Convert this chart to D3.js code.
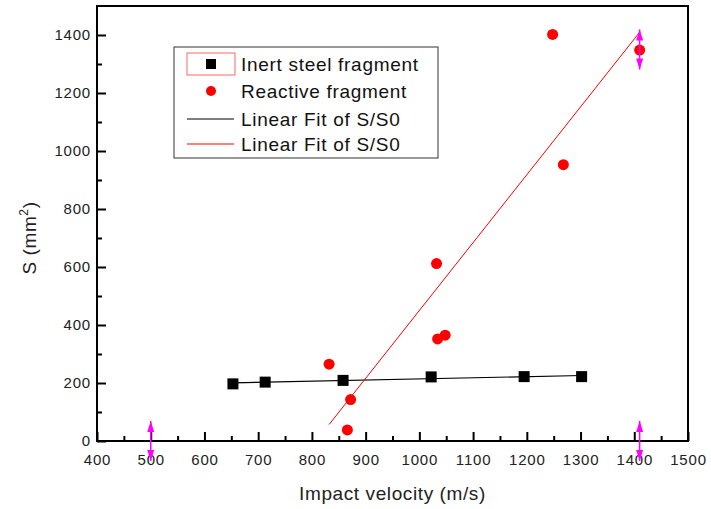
<!DOCTYPE html>
<html>
<head>
<meta charset="utf-8">
<script src="https://cdn.jsdelivr.net/npm/d3@7"></script>
<style>
  body { margin: 0; background: #fff; }
  svg { font-family: "Liberation Sans", Arial, sans-serif; }
</style>
</head>
<body>
<svg width="711" height="509"></svg>
<script>
// inert steel fragment (impact velocity m/s, S mm2)
const inertVelocity = [653, 713, 858, 1022, 1195, 1302];
const inertArea = [197, 203, 209, 221, 222, 222];

// reactive fragment
const reactiveVelocity = [832, 866, 872, 1032, 1034, 1048, 1248, 1268, 1410];
const reactiveArea = [265, 38, 143, 612, 352, 365, 1402, 953, 1348];

// marker arrows (Origin data reader handles)
const arrowX = [500, 1410, 1410];
const arrowY = [0, 0, 1350];

const xTicks = d3.range(400, 1501, 100);
const yTicks = d3.range(0, 1401, 200);

const legendLabels = ["Inert steel fragment", "Reactive fragment", "Linear Fit of S/S0", "Linear Fit of S/S0"];

const svg = d3.select("svg");
const plotLeft = 97, plotRight = 688, plotTop = 6, plotBottom = 441;

const x = d3.scaleLinear().domain([400, 1500]).range([plotLeft, plotRight]);
const y = d3.scaleLinear().domain([0, 1500]).range([plotBottom, plotTop]);

function fit(xs, ys) {
  const mx = d3.mean(xs), my = d3.mean(ys);
  const sxy = d3.sum(xs, (v, i) => (v - mx) * (ys[i] - my));
  const sxx = d3.sum(xs, v => (v - mx) * (v - mx));
  const b = sxy / sxx;
  const a = my - b * mx;
  const x0 = d3.min(xs), x1 = d3.max(xs);
  return [[x0, a + b * x0], [x1, a + b * x1]];
}

const line = d3.line().x(d => x(d[0])).y(d => y(d[1]));

// axes with inward ticks
const xAxis = svg.append("g").attr("transform", `translate(0,${plotBottom})`);
xAxis.call(d3.axisBottom(x).tickValues(d3.range(450, 1500, 100)).tickSize(-5).tickFormat(""));
xAxis.append("g").call(d3.axisBottom(x).tickValues(xTicks).tickSize(-9).tickFormat(d3.format("d")));
xAxis.selectAll(".domain").remove();
xAxis.selectAll("line").attr("stroke", "#000").attr("stroke-width", 2);
xAxis.selectAll("text")
  .attr("y", 13)
  .attr("font-size", 15)
  .attr("letter-spacing", 0.8)
  .attr("fill", "#222")
  .attr("font-family", "Liberation Sans, Arial, sans-serif");

const yAxis = svg.append("g").attr("transform", `translate(${plotLeft},0)`);
yAxis.call(d3.axisLeft(y).tickValues(d3.range(100, 1500, 200)).tickSize(-5).tickFormat(""));
yAxis.append("g").call(d3.axisLeft(y).tickValues(yTicks).tickSize(-9).tickFormat(d3.format("d")));
yAxis.selectAll(".domain").remove();
yAxis.selectAll("line").attr("stroke", "#000").attr("stroke-width", 2);
yAxis.selectAll("text")
  .attr("x", -6)
  .attr("font-size", 15)
  .attr("letter-spacing", 0.8)
  .attr("fill", "#222")
  .attr("font-family", "Liberation Sans, Arial, sans-serif");

// frame
svg.append("rect")
  .attr("x", plotLeft)
  .attr("y", plotTop)
  .attr("width", plotRight - plotLeft)
  .attr("height", plotBottom - plotTop)
  .attr("fill", "none")
  .attr("stroke", "#000")
  .attr("stroke-width", 2);

// fit lines
svg.append("path")
  .attr("d", line(fit(inertVelocity, inertArea)))
  .attr("stroke", "#000")
  .attr("stroke-width", 1.2)
  .attr("fill", "none");

svg.append("path")
  .attr("d", line(fit(reactiveVelocity, reactiveArea)))
  .attr("stroke", "#f00")
  .attr("stroke-width", 1)
  .attr("fill", "none");

// points
svg.append("g")
  .selectAll("rect")
  .data(inertVelocity)
  .join("rect")
  .attr("x", d => x(d) - 5.5)
  .attr("y", (d, i) => y(inertArea[i]) - 5.5)
  .attr("width", 11)
  .attr("height", 11)
  .attr("fill", "#000");

svg.append("g")
  .selectAll("circle")
  .data(reactiveVelocity)
  .join("circle")
  .attr("cx", d => x(d))
  .attr("cy", (d, i) => y(reactiveArea[i]))
  .attr("r", 5.5)
  .attr("fill", "#f00");

// magenta arrows
const arrows = svg.append("g").attr("fill", "#f0f").attr("stroke", "#f0f");
arrowX.forEach((v, i) => {
  const cx = x(v), cy = y(arrowY[i]);
  const g = arrows.append("g");
  g.append("line")
    .attr("x1", cx).attr("x2", cx)
    .attr("y1", cy - 20).attr("y2", cy + 20)
    .attr("stroke-width", 1.5);
  g.append("path")
    .attr("stroke", "none")
    .attr("d", `M${cx},${cy - 20} L${cx - 3.5},${cy - 9} L${cx + 3.5},${cy - 9} Z`);
  g.append("path")
    .attr("stroke", "none")
    .attr("d", `M${cx},${cy + 20} L${cx - 3.5},${cy + 9} L${cx + 3.5},${cy + 9} Z`);
});

// axis titles
svg.append("text")
  .attr("x", (plotLeft + plotRight) / 2)
  .attr("y", 500)
  .attr("text-anchor", "middle")
  .attr("font-size", 19)
  .attr("letter-spacing", 0.6)
  .attr("fill", "#222")
  .text("Impact velocity (m/s)");

const yTitle = svg.append("text")
  .attr("transform", "translate(36,238) rotate(-90)")
  .attr("text-anchor", "middle")
  .attr("font-size", 19)
  .attr("letter-spacing", 0.6)
  .attr("fill", "#222");
yTitle.append("tspan").text("S (mm");
yTitle.append("tspan").attr("font-size", 12).attr("dy", -8).text("2");
yTitle.append("tspan").attr("dy", 8).text(")");

// legend
const legendG = svg.append("g").attr("transform", "translate(174,47)");
legendG.append("rect")
  .attr("width", 264)
  .attr("height", 111)
  .attr("fill", "#fff")
  .attr("stroke", "#333")
  .attr("stroke-width", 1);

const rows = legendG.selectAll("g.row")
  .data(legendLabels)
  .join("g")
  .attr("class", "row")
  .attr("transform", (d, i) => `translate(0, ${[17, 44, 72, 97][i]})`);

rows.append("text")
  .attr("x", 67)
  .attr("y", 7)
  .attr("font-size", 19)
  .attr("letter-spacing", 0.7)
  .attr("fill", "#111")
  .text(d => d);

legendG.append("rect")
  .attr("x", 13).attr("y", 6)
  .attr("width", 48).attr("height", 22)
  .attr("fill", "none")
  .attr("stroke", "#f66")
  .attr("stroke-width", 1);
legendG.append("rect")
  .attr("x", 32).attr("y", 12)
  .attr("width", 10).attr("height", 10)
  .attr("fill", "#000");
legendG.append("circle")
  .attr("cx", 37).attr("cy", 44)
  .attr("r", 5)
  .attr("fill", "#f00");
legendG.append("line")
  .attr("x1", 13).attr("x2", 60)
  .attr("y1", 72).attr("y2", 72)
  .attr("stroke", "#000").attr("stroke-width", 1.2);
legendG.append("line")
  .attr("x1", 13).attr("x2", 60)
  .attr("y1", 97).attr("y2", 97)
  .attr("stroke", "#f00").attr("stroke-width", 1);
</script>
</body>
</html>
